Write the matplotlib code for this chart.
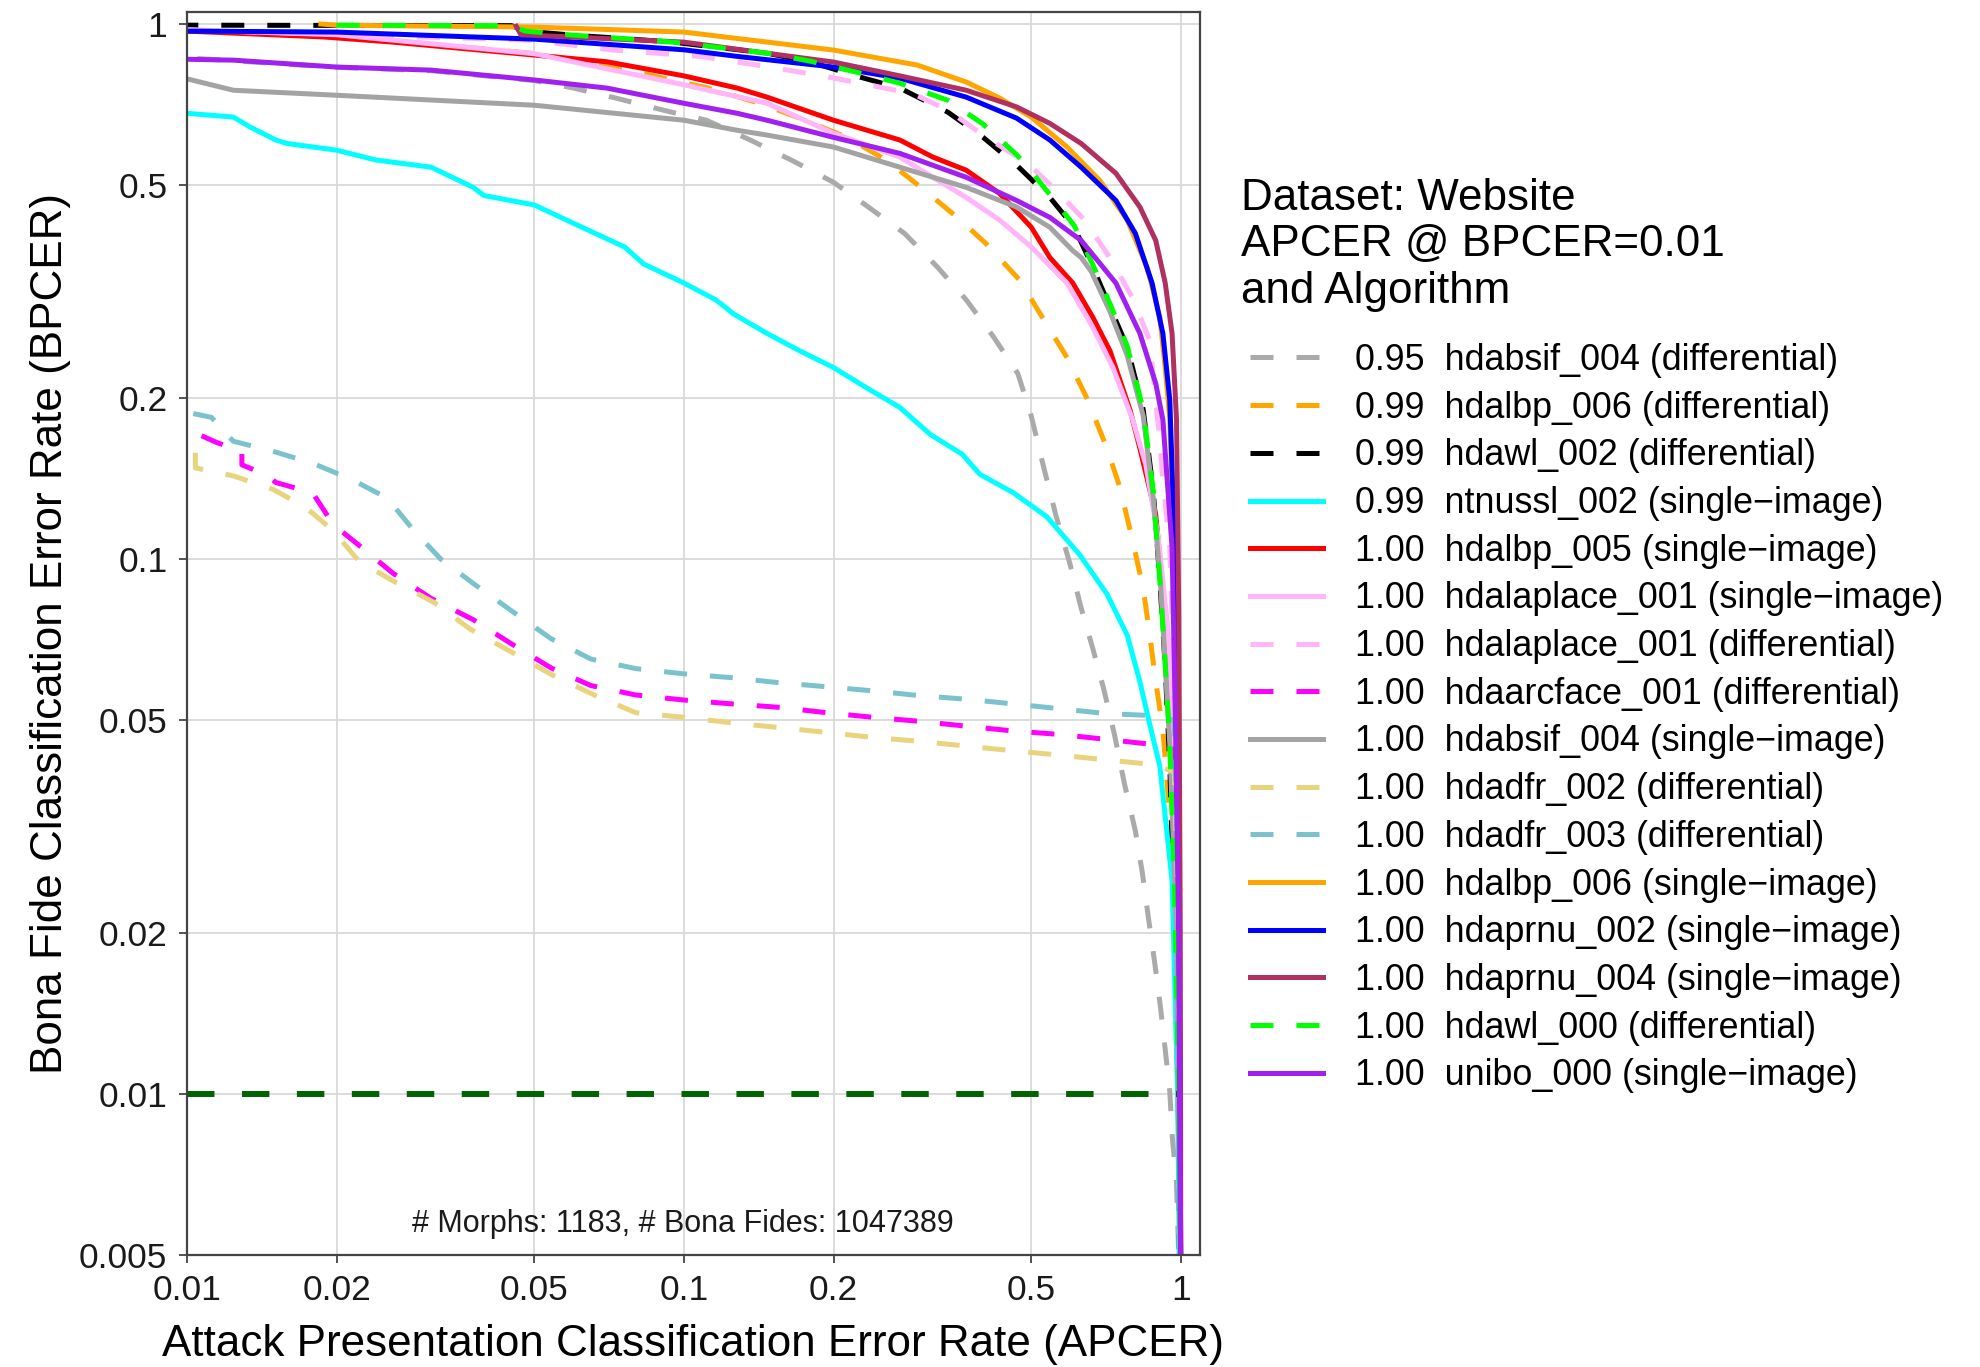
import matplotlib
matplotlib.use("Agg")
import matplotlib.pyplot as plt
from matplotlib.lines import Line2D
from matplotlib.ticker import FixedLocator, NullLocator, FixedFormatter

plt.rcParams['font.family'] = ['Liberation Sans', 'DejaVu Sans']

# --- DET curves (APCER on x, BPCER on y) ---
absif_diff_x = [0.0105, 0.02, 0.031, 0.05, 0.06, 0.073, 0.091, 0.111, 0.136, 0.165, 0.2, 0.235, 0.278,
                0.324, 0.37, 0.42, 0.47, 0.5, 0.53, 0.56, 0.598, 0.63, 0.665, 0.70, 0.735, 0.77, 0.81,
                0.836, 0.86, 0.885, 0.91, 0.93, 0.95, 0.96, 0.98, 0.99]
absif_diff_y = [0.862, 0.83, 0.818, 0.784, 0.759, 0.727, 0.69, 0.661, 0.607, 0.556, 0.506, 0.455, 0.406,
                0.351, 0.305, 0.26, 0.222, 0.185, 0.148, 0.121, 0.098, 0.081, 0.068, 0.057, 0.047, 0.038,
                0.031, 0.026, 0.0214, 0.0177, 0.0145, 0.0121, 0.0101, 0.0084, 0.0068, 0.005]

lbp6_diff_x = [0.01, 0.017, 0.026, 0.032, 0.039, 0.049, 0.061, 0.075, 0.091, 0.112, 0.142, 0.171, 0.213,
               0.256, 0.30, 0.355, 0.405, 0.474, 0.53, 0.59, 0.65, 0.71, 0.754, 0.80, 0.84, 0.866, 0.89,
               0.92, 0.95, 0.975, 0.99, 1.0]
lbp6_diff_y = [0.975, 0.953, 0.933, 0.913, 0.90, 0.882, 0.856, 0.827, 0.792, 0.759, 0.711, 0.667, 0.614,
               0.556, 0.495, 0.435, 0.389, 0.332, 0.28, 0.238, 0.198, 0.161, 0.136, 0.108, 0.088, 0.072,
               0.059, 0.048, 0.033, 0.018, 0.008, 0.004]

wl2_diff_x = [0.005, 0.045, 0.048, 0.06, 0.075, 0.095, 0.115, 0.147, 0.18, 0.226, 0.272, 0.34, 0.40,
              0.467, 0.545, 0.61, 0.665, 0.72, 0.78, 0.84, 0.88, 0.907, 0.929, 0.95, 0.96, 0.975, 0.988,
              0.995]
wl2_diff_y = [0.996, 0.993, 0.97, 0.953, 0.94, 0.925, 0.906, 0.882, 0.849, 0.796, 0.759, 0.684, 0.614,
              0.545, 0.474, 0.417, 0.351, 0.296, 0.249, 0.19, 0.134, 0.091, 0.064, 0.041, 0.029, 0.017,
              0.01, 0.004]

ntnu_single_x = [0.01, 0.0124, 0.0134, 0.0151, 0.0159, 0.02, 0.024, 0.031, 0.0377, 0.0396, 0.05, 0.06,
                 0.076, 0.083, 0.1, 0.116, 0.126, 0.147, 0.171, 0.2, 0.233, 0.272, 0.313, 0.363, 0.394,
                 0.46, 0.537, 0.625, 0.71, 0.78, 0.827, 0.866, 0.907, 0.93, 0.96, 0.985, 0.995]
ntnu_single_y = [0.681, 0.67, 0.642, 0.607, 0.598, 0.581, 0.557, 0.54, 0.495, 0.478, 0.459, 0.424,
                 0.383, 0.356, 0.328, 0.305, 0.287, 0.264, 0.245, 0.228, 0.209, 0.192, 0.171, 0.157,
                 0.144, 0.133, 0.12, 0.102, 0.086, 0.072, 0.059, 0.049, 0.041, 0.033, 0.025, 0.01, 0.004]

lbp5_single_x = [0.01, 0.0188, 0.026, 0.05, 0.07, 0.1, 0.128, 0.147, 0.2, 0.272, 0.317, 0.37, 0.432,
                 0.5, 0.545, 0.606, 0.665, 0.72, 0.79, 0.827, 0.89, 0.93, 0.96, 0.98, 0.993, 1.0]
lbp5_single_y = [0.97, 0.946, 0.925, 0.875, 0.85, 0.80, 0.759, 0.73, 0.661, 0.607, 0.564, 0.533, 0.482,
                 0.417, 0.366, 0.328, 0.283, 0.245, 0.19, 0.161, 0.121, 0.079, 0.051, 0.033, 0.012, 0.004]

lapl_single_x = [0.01, 0.02, 0.05, 0.1, 0.147, 0.2, 0.272, 0.317, 0.37, 0.432, 0.5, 0.59, 0.665, 0.73,
                 0.80, 0.85, 0.9, 0.94, 0.97, 0.99, 1.0]
lapl_single_y = [0.975, 0.955, 0.88, 0.77, 0.711, 0.625, 0.564, 0.517, 0.474, 0.43, 0.383, 0.328, 0.271,
                 0.228, 0.182, 0.15, 0.11, 0.075, 0.045, 0.015, 0.004]

lapl_diff_x = [0.01, 0.049, 0.072, 0.108, 0.15, 0.19, 0.235, 0.29, 0.34, 0.40, 0.49, 0.56, 0.64, 0.725,
               0.80, 0.866, 0.88, 0.905, 0.92, 0.95, 0.975, 0.99, 1.0]
lapl_diff_y = [0.975, 0.933, 0.894, 0.87, 0.83, 0.80, 0.77, 0.74, 0.69, 0.62, 0.55, 0.49, 0.43, 0.362,
               0.307, 0.256, 0.22, 0.17, 0.14, 0.105, 0.05, 0.02, 0.004]

arcface_diff_x = [0.0107, 0.0115, 0.0129, 0.0129, 0.0146, 0.0151, 0.0179, 0.0197, 0.0225, 0.026, 0.031,
                  0.0377, 0.045, 0.054, 0.065, 0.08, 0.1, 0.125, 0.156, 0.194, 0.24, 0.30, 0.37, 0.46,
                  0.57, 0.71, 0.88, 0.97, 0.99, 1.0]
arcface_diff_y = [0.17, 0.165, 0.159, 0.15, 0.143, 0.139, 0.133, 0.116, 0.105, 0.094, 0.0844, 0.077,
                  0.0694, 0.0626, 0.058, 0.0557, 0.0545, 0.0536, 0.0528, 0.0516, 0.0506, 0.0497, 0.0487,
                  0.0477, 0.047, 0.046, 0.045, 0.044, 0.02, 0.004]

absif_single_x = [0.01, 0.0124, 0.02, 0.05, 0.1, 0.128, 0.147, 0.2, 0.272, 0.37, 0.467, 0.545, 0.606,
                  0.63, 0.66, 0.72, 0.78, 0.84, 0.88, 0.91, 0.95, 0.98, 1.0]
absif_single_y = [0.79, 0.752, 0.736, 0.705, 0.661, 0.633, 0.62, 0.589, 0.54, 0.495, 0.455, 0.417, 0.377,
                  0.366, 0.345, 0.29, 0.24, 0.185, 0.13, 0.09, 0.045, 0.02, 0.004]

dfr2_diff_x = [0.0104, 0.0104, 0.0124, 0.0149, 0.0173, 0.0197, 0.0222, 0.026, 0.0314, 0.0372, 0.045,
               0.054, 0.066, 0.08, 0.1, 0.125, 0.156, 0.194, 0.24, 0.30, 0.37, 0.46, 0.57, 0.71, 0.88,
               0.97, 0.99, 1.0]
dfr2_diff_y = [0.158, 0.148, 0.143, 0.135, 0.125, 0.113, 0.099, 0.091, 0.083, 0.0739, 0.067, 0.0609,
               0.0557, 0.0516, 0.0506, 0.0494, 0.0484, 0.0474, 0.0464, 0.0456, 0.0447, 0.0438, 0.043,
               0.0421, 0.0413, 0.04, 0.02, 0.004]

dfr3_diff_x = [0.0103, 0.0112, 0.0124, 0.0149, 0.0179, 0.0214, 0.0253, 0.0284, 0.0324, 0.0377, 0.045,
               0.054, 0.065, 0.08, 0.1, 0.125, 0.156, 0.194, 0.24, 0.30, 0.37, 0.46, 0.57, 0.71, 0.866,
               0.97, 0.99, 1.0]
dfr3_diff_y = [0.187, 0.184, 0.166, 0.159, 0.151, 0.141, 0.13, 0.114, 0.1, 0.09, 0.08, 0.071, 0.065,
               0.0624, 0.061, 0.06, 0.0587, 0.0577, 0.0567, 0.0555, 0.0547, 0.0536, 0.0525, 0.0514,
               0.051, 0.05, 0.02, 0.004]

lbp6_single_x = [0.0186, 0.02, 0.05, 0.1, 0.2, 0.295, 0.37, 0.432, 0.5, 0.59, 0.687, 0.78, 0.855, 0.907,
                 0.93, 0.95, 0.97, 0.985, 0.995, 1.0]
lbp6_single_y = [1.0, 0.995, 0.987, 0.966, 0.894, 0.838, 0.779, 0.727, 0.67, 0.589, 0.51, 0.43, 0.351,
                 0.283, 0.228, 0.182, 0.1, 0.04, 0.012, 0.004]

prnu2_single_x = [0.005, 0.02, 0.05, 0.1, 0.128, 0.2, 0.272, 0.37, 0.467, 0.545, 0.63, 0.74, 0.81, 0.875,
                  0.92, 0.95, 0.97, 0.985, 0.995, 1.0]
prnu2_single_y = [0.974, 0.966, 0.937, 0.895, 0.87, 0.831, 0.792, 0.73, 0.667, 0.607, 0.54, 0.468, 0.406,
                  0.328, 0.264, 0.198, 0.11, 0.04, 0.012, 0.004]

prnu4_single_x = [0.046, 0.047, 0.1, 0.2, 0.272, 0.37, 0.467, 0.545, 0.63, 0.74, 0.827, 0.89, 0.93, 0.96,
                  0.98, 0.99, 0.997, 1.0]
prnu4_single_y = [0.99, 0.955, 0.925, 0.849, 0.80, 0.752, 0.70, 0.652, 0.598, 0.526, 0.455, 0.394, 0.328,
                  0.264, 0.182, 0.08, 0.02, 0.004]

wl0_diff_x = [0.02, 0.045, 0.048, 0.06, 0.075, 0.095, 0.115, 0.147, 0.18, 0.226, 0.272, 0.34, 0.40, 0.467,
              0.5, 0.545, 0.61, 0.665, 0.72, 0.78, 0.84, 0.88, 0.907, 0.93, 0.95, 0.97, 0.99, 1.0]
wl0_diff_y = [0.995, 0.993, 0.97, 0.953, 0.94, 0.925, 0.906, 0.882, 0.852, 0.81, 0.775, 0.72, 0.65, 0.57,
              0.53, 0.48, 0.42, 0.355, 0.30, 0.25, 0.19, 0.134, 0.091, 0.064, 0.045, 0.025, 0.01, 0.004]

unibo_single_x = [0.005, 0.0124, 0.02, 0.031, 0.05, 0.07, 0.1, 0.128, 0.147, 0.2, 0.272, 0.37, 0.467,
                  0.545, 0.63, 0.74, 0.827, 0.89, 0.92, 0.96, 0.975, 0.99, 1.0]
unibo_single_y = [0.87, 0.856, 0.831, 0.82, 0.786, 0.759, 0.711, 0.681, 0.661, 0.614, 0.573, 0.517, 0.468,
                  0.435, 0.394, 0.328, 0.264, 0.213, 0.182, 0.105, 0.05, 0.02, 0.004]

# BPCER = 0.01 operating line
threshold_x = [0.01, 0.983]
threshold_y = [0.01, 0.01]

apcer_at_bpcer = [0.95, 0.99, 0.99, 0.99, 1.00, 1.00, 1.00, 1.00, 1.00, 1.00, 1.00, 1.00, 1.00, 1.00,
                  1.00, 1.00]
algorithms = ["hdabsif_004 (differential)", "hdalbp_006 (differential)", "hdawl_002 (differential)",
              "ntnussl_002 (single\u2212image)", "hdalbp_005 (single\u2212image)",
              "hdalaplace_001 (single\u2212image)", "hdalaplace_001 (differential)",
              "hdaarcface_001 (differential)", "hdabsif_004 (single\u2212image)",
              "hdadfr_002 (differential)", "hdadfr_003 (differential)", "hdalbp_006 (single\u2212image)",
              "hdaprnu_002 (single\u2212image)", "hdaprnu_004 (single\u2212image)",
              "hdawl_000 (differential)", "unibo_000 (single\u2212image)"]

curves = [(absif_diff_x, absif_diff_y), (lbp6_diff_x, lbp6_diff_y), (wl2_diff_x, wl2_diff_y),
          (ntnu_single_x, ntnu_single_y), (lbp5_single_x, lbp5_single_y),
          (lapl_single_x, lapl_single_y), (lapl_diff_x, lapl_diff_y),
          (arcface_diff_x, arcface_diff_y), (absif_single_x, absif_single_y),
          (dfr2_diff_x, dfr2_diff_y), (dfr3_diff_x, dfr3_diff_y), (lbp6_single_x, lbp6_single_y),
          (prnu2_single_x, prnu2_single_y), (prnu4_single_x, prnu4_single_y),
          (wl0_diff_x, wl0_diff_y), (unibo_single_x, unibo_single_y)]

colors = ["#AAAAAA", "#FFA500", "#000000", "#00FFFF", "#FF0000", "#FFB5F7", "#FFB5F7", "#FF00FF",
          "#A3A3A3", "#E8D47C", "#7BC3CC", "#FFA500", "#0000FF", "#B03060", "#00FF00", "#A020F0"]
dashed = [True, True, True, False, False, False, True, True, False, True, True, False, False, False,
          True, False]

LW = 3.6
DASH = (0, (4.6, 4.6))

fig = plt.figure(figsize=(19.8, 13.67), dpi=100)
ax = fig.add_axes([0.0944, 0.0819, 0.5116, 0.9093])
ax.set_xscale('log')
ax.set_yscale('log')

handles = []
for (xs, ys), c, d in zip(curves, colors, dashed):
    ls = DASH if d else '-'
    ax.plot(xs, ys, color=c, lw=LW, linestyle=ls, solid_joinstyle='round')
    handles.append(Line2D([0], [0], color=c, lw=LW, linestyle=ls))

ax.plot(threshold_x, threshold_y, color='#006400', lw=4.3, linestyle=(0, (4.6, 4.6)))

ax.set_xlim(0.01, 1.092)
ax.set_ylim(0.005, 1.053)

xt = [0.01, 0.02, 0.05, 0.1, 0.2, 0.5, 1]
yt = [0.005, 0.01, 0.02, 0.05, 0.1, 0.2, 0.5, 1]
ax.xaxis.set_major_locator(FixedLocator(xt))
ax.xaxis.set_major_formatter(FixedFormatter(["0.01", "0.02", "0.05", "0.1", "0.2", "0.5", "1"]))
ax.yaxis.set_major_locator(FixedLocator(yt))
ax.yaxis.set_major_formatter(FixedFormatter(["0.005", "0.01", "0.02", "0.05", "0.1", "0.2", "0.5", "1"]))
ax.xaxis.set_minor_locator(NullLocator())
ax.yaxis.set_minor_locator(NullLocator())

ax.grid(True, which='major', color='#D9D9D9', lw=1.3)
ax.set_axisbelow(True)
for s in ax.spines.values():
    s.set_color('#444444')
    s.set_linewidth(1.6)
ax.tick_params(axis='both', length=5.5, width=1.3, color='#444444', labelsize=25.5, labelcolor='#1A1A1A')
ax.tick_params(axis='x', pad=8.5)
ax.tick_params(axis='y', pad=8.5)

ax.set_xlabel("Attack Presentation Classification Error Rate (APCER)", fontsize=31.7, labelpad=12)
ax.set_ylabel("Bona Fide Classification Error Rate (BPCER)", fontsize=31.7, labelpad=6)

ax.text(0.49, 0.025, "# Morphs: 1183, # Bona Fides: 1047389", transform=ax.transAxes,
        ha='center', va='center', fontsize=22, color='#1A1A1A')

# legend: title block and entries
fig.text(1241 / 1980, 1 - 245 / 1367, "Dataset: Website\nAPCER @ BPCER=0.01\nand Algorithm",
         ha='left', va='center', fontsize=31.7, linespacing=1.18)

labels = [f"{v:.2f}  {a}" for v, a in zip(apcer_at_bpcer, algorithms)]
fig.legend(handles, labels, loc='upper left', bbox_to_anchor=(1250 / 1980, 1 - 343 / 1367),
           frameon=False, fontsize=25.8, handlelength=2.04, handletextpad=0.9, labelspacing=0.354,
           borderpad=0, borderaxespad=0)

fig.savefig("out.png", dpi=100)
